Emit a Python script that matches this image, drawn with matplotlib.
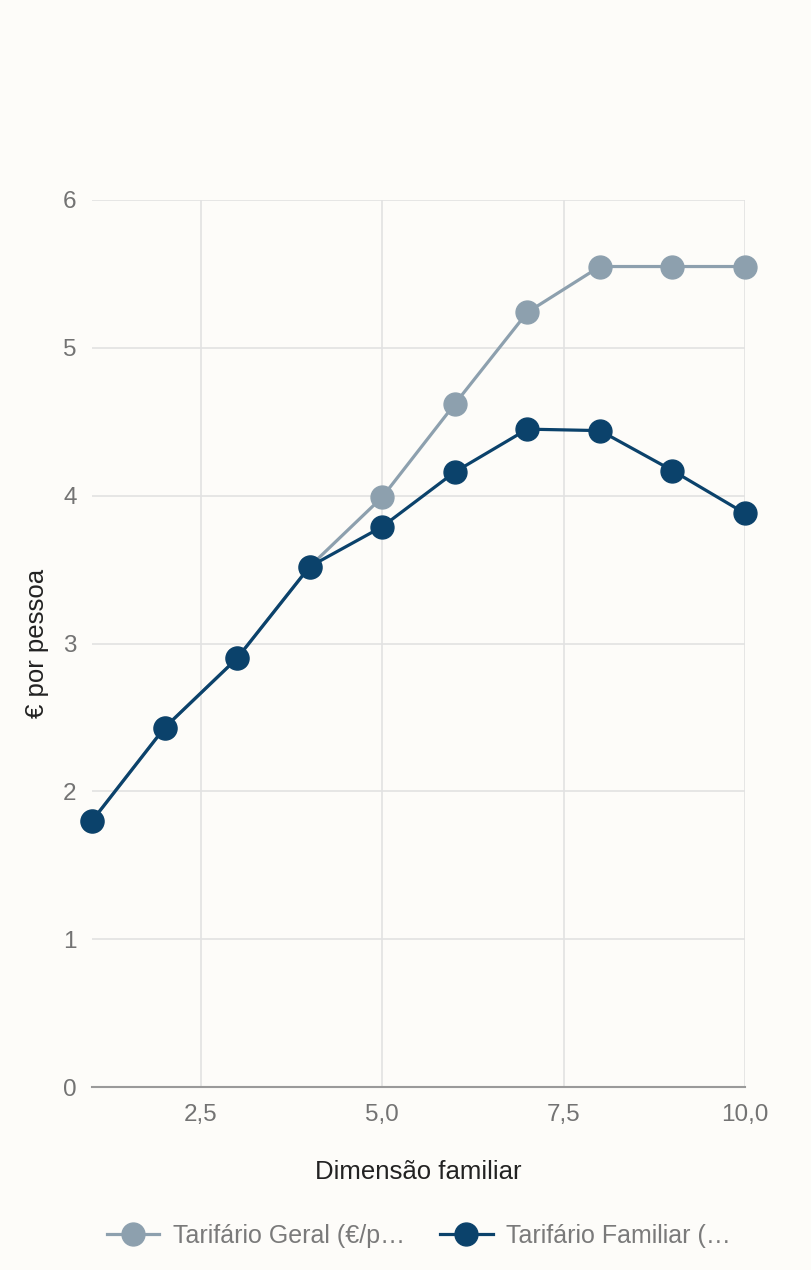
import matplotlib.pyplot as plt
from matplotlib.ticker import FuncFormatter, FixedLocator
from matplotlib.lines import Line2D

plt.rcParams['font.family'] = ['Liberation Sans', 'DejaVu Sans']

# data
dimensao = [1, 2, 3, 4, 5, 6, 7, 8, 9, 10]
geral = [1.80, 2.43, 2.90, 3.52, 3.99, 4.62, 5.24, 5.55, 5.55, 5.55]
familiar = [1.80, 2.43, 2.90, 3.52, 3.79, 4.16, 4.45, 4.44, 4.17, 3.88]
nomes = ['Tarifário Geral (€/p…', 'Tarifário Familiar (…']
cores = ['#8da0ae', '#0b426b']

bg = '#fdfcf9'
fs = 17.5
fs_lab = 18.5
fig = plt.figure(figsize=(8.11, 12.70), dpi=100, facecolor=bg)
ax = fig.add_axes([92/811, 1 - 1087/1270, (745-92)/811, (1087-200)/1270])
ax.set_facecolor(bg)

ax.plot(dimensao, geral, color=cores[0], lw=2.3, marker='o', ms=16.5, zorder=3, clip_on=False)
ax.plot(dimensao, familiar, color=cores[1], lw=2.3, marker='o', ms=16.5, zorder=4, clip_on=False)

ax.set_xlim(1, 10)
ax.set_ylim(0, 6)
ax.xaxis.set_major_locator(FixedLocator([2.5, 5.0, 7.5, 10.0]))
ax.yaxis.set_major_locator(FixedLocator([0, 1, 2, 3, 4, 5, 6]))
ax.xaxis.set_major_formatter(FuncFormatter(lambda v, p: f'{v:.1f}'.replace('.', ',')))
ax.yaxis.set_major_formatter(FuncFormatter(lambda v, p: f'{int(v)}'))

ax.grid(True, color='#e2e2e2', lw=1.2, zorder=0)
for s in ['left', 'right', 'top']:
    ax.spines[s].set_visible(False)
ax.spines['bottom'].set_color('#9a9a9a')
ax.spines['bottom'].set_linewidth(1.5)
ax.tick_params(length=0, labelsize=fs, labelcolor='#737373')
ax.tick_params(axis='x', pad=12)
ax.tick_params(axis='y', pad=11)

ax.set_xlabel('Dimensão familiar', fontsize=fs_lab, color='#222222', labelpad=25)
ax.set_ylabel('€ por pessoa', fontsize=fs_lab, color='#222222', labelpad=10)

handles = [Line2D([], [], color=c, lw=2.3, marker='o', ms=16.5) for c in cores]
fig.legend(handles, nomes, loc='center', bbox_to_anchor=(419/811, 1 - 1236/1270),
           ncol=2, frameon=False, fontsize=18, labelcolor='#7a7a7a',
           handlelength=2.1, columnspacing=1.4, handletextpad=0.55)

fig.savefig('out.png', dpi=100, facecolor=bg)
